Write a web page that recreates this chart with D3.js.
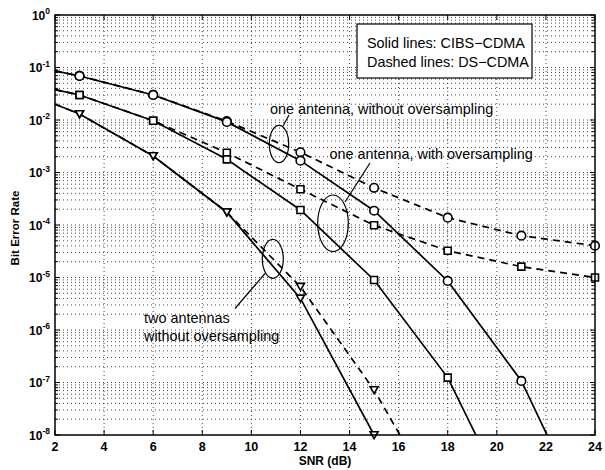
<!DOCTYPE html>
<html>
<head>
<meta charset="utf-8">
<script src="https://cdn.jsdelivr.net/npm/d3@7"></script>
<style>
  body { margin: 0; background: #fff; }
  text { font-family: 'Liberation Sans', Arial, Helvetica, sans-serif; fill: #000; }
</style>
</head>
<body>
<div id="chart"></div>
<script>
// SNR points (markers every 3 dB, first point is the left edge of the axes)
const snr = [2, 3, 6, 9, 12, 15, 18, 21, 24];

// CIBS-CDMA (solid lines)
const cibsOneNoOs = [0.086, 0.069, 0.030, 0.0092, 1.68e-3, 1.87e-4, 8.6e-6, 1.07e-7, 1.2e-10];
const cibsOneOs   = [0.038, 0.030, 0.0097, 1.78e-3, 1.93e-4, 8.96e-6, 1.24e-7, 1.7e-10, null];
const cibsTwo     = [0.020, 0.013, 2.06e-3, 1.75e-4, 4.0e-6, 1.0e-8, null, null, null];

// DS-CDMA (dashed lines)
const dsOneNoOs = [0.086, 0.069, 0.030, 0.0095, 2.43e-3, 5.1e-4, 1.38e-4, 6.25e-5, 4.03e-5];
const dsOneOs   = [0.038, 0.030, 0.0097, 2.38e-3, 4.79e-4, 9.9e-5, 3.24e-5, 1.61e-5, 1.0e-5];
const dsTwo     = [0.020, 0.013, 2.06e-3, 1.75e-4, 6.68e-6, 7.2e-8, 2.6e-10, null, null];

const xTicks = [2, 4, 6, 8, 10, 12, 14, 16, 18, 20, 22, 24];
const yExponents = [0, -1, -2, -3, -4, -5, -6, -7, -8];

const series = [
    {values: dsOneNoOs, marker: 'circle', dashed: true},
    {values: dsOneOs, marker: 'square', dashed: true},
    {values: dsTwo, marker: 'triangle', dashed: true},
    {values: cibsOneNoOs, marker: 'circle', dashed: false},
    {values: cibsOneOs, marker: 'square', dashed: false},
    {values: cibsTwo, marker: 'triangle', dashed: false}
];

const width = 605, height = 470;
const margin = {top: 15, right: 10, bottom: 35, left: 55};

const svg = d3.select('#chart')
    .append('svg')
    .attr('width', width)
    .attr('height', height);

svg.append('rect').attr('width', width).attr('height', height).attr('fill', '#fff');

const x = d3.scaleLinear().domain([2, 24]).range([margin.left, width - margin.right]);
const y = d3.scaleLog().domain([1e-8, 1]).range([height - margin.bottom, margin.top]);

const [x0, x1] = x.range();
const [y0, y1] = y.range(); // y0 bottom, y1 top

svg.append('defs').append('clipPath').attr('id', 'plotClip')
    .append('rect')
    .attr('x', x0).attr('y', y1)
    .attr('width', x1 - x0).attr('height', y0 - y1);

// minor log values
const minorY = [];
yExponents.slice(1).forEach(e => {
    for (let k = 2; k <= 9; k++) minorY.push(k * Math.pow(10, e));
});
const majorY = yExponents.map(e => Math.pow(10, e));

// grid (dotted, matlab style)
const grid = svg.append('g')
    .attr('stroke', '#333')
    .attr('stroke-width', 0.9)
    .attr('stroke-dasharray', '1,3');

grid.selectAll('line.gx')
    .data(xTicks.slice(1, -1))
    .join('line')
    .attr('class', 'gx')
    .attr('x1', d => x(d)).attr('x2', d => x(d))
    .attr('y1', y1).attr('y2', y0);

grid.selectAll('line.gy')
    .data(majorY.slice(1, -1).concat(minorY))
    .join('line')
    .attr('class', 'gy')
    .attr('x1', x0).attr('x2', x1)
    .attr('y1', d => y(d)).attr('y2', d => y(d));

// ticks, inward on all sides
const ticks = svg.append('g').attr('stroke', '#000').attr('stroke-width', 1);
xTicks.forEach(t => {
    ticks.append('line').attr('x1', x(t)).attr('x2', x(t)).attr('y1', y0).attr('y2', y0 - 5);
    ticks.append('line').attr('x1', x(t)).attr('x2', x(t)).attr('y1', y1).attr('y2', y1 + 5);
});
majorY.forEach(v => {
    ticks.append('line').attr('x1', x0).attr('x2', x0 + 5).attr('y1', y(v)).attr('y2', y(v));
    ticks.append('line').attr('x1', x1).attr('x2', x1 - 5).attr('y1', y(v)).attr('y2', y(v));
});
minorY.forEach(v => {
    ticks.append('line').attr('x1', x0).attr('x2', x0 + 3).attr('y1', y(v)).attr('y2', y(v));
    ticks.append('line').attr('x1', x1).attr('x2', x1 - 3).attr('y1', y(v)).attr('y2', y(v));
});

// curves
const line = d3.line()
    .defined(d => d[1] != null)
    .x(d => x(d[0]))
    .y(d => y(d[1]));

const curves = svg.append('g').attr('clip-path', 'url(#plotClip)');
curves.selectAll('path')
    .data(series)
    .join('path')
    .attr('d', s => line(snr.map((v, i) => [v, s.values[i]])))
    .attr('fill', 'none')
    .attr('stroke', '#000')
    .attr('stroke-width', 1.7)
    .attr('stroke-dasharray', s => s.dashed ? '7,5' : null);

// markers (skip the edge point and values below the axis)
const markerPath = {
    square: 'M-3.5,-3.5H3.5V3.5H-3.5Z',
    triangle: 'M-4,-3.3L4,-3.3L0,3.6Z'
};
series.forEach(s => {
    const pts = snr.map((v, i) => [v, s.values[i]])
        .filter((d, i) => i > 0 && d[1] != null && d[1] >= 9e-9);
    const g = svg.append('g')
        .attr('fill', '#fff')
        .attr('stroke', '#000')
        .attr('stroke-width', 1.6);
    if (s.marker === 'circle') {
        g.selectAll('circle').data(pts).join('circle')
            .attr('cx', d => x(d[0])).attr('cy', d => y(d[1])).attr('r', 4.3);
    } else {
        g.selectAll('path').data(pts).join('path')
            .attr('d', markerPath[s.marker])
            .attr('transform', d => `translate(${x(d[0])},${y(d[1])})`);
    }
});

// frame
svg.append('rect')
    .attr('x', x0).attr('y', y1)
    .attr('width', x1 - x0).attr('height', y0 - y1)
    .attr('fill', 'none')
    .attr('stroke', '#000')
    .attr('stroke-width', 1.5);

// tick labels
svg.append('g').selectAll('text')
    .data(xTicks)
    .join('text')
    .attr('x', d => x(d))
    .attr('y', y0 + 16)
    .attr('text-anchor', 'middle')
    .attr('font-size', 12.5)
    .attr('font-weight', 'bold')
    .text(d => d);

const yl = svg.append('g').selectAll('text')
    .data(yExponents)
    .join('text')
    .attr('x', x0 - 5)
    .attr('y', d => y(Math.pow(10, d)) + 4.8)
    .attr('text-anchor', 'end')
    .attr('font-size', 12)
    .attr('font-weight', 'bold');
yl.append('tspan').text('10');
yl.append('tspan').attr('dy', -5.5).attr('font-size', 8.5).text(d => d === 0 ? '0' : '-' + Math.abs(d));

// axis titles
svg.append('text')
    .attr('x', (x0 + x1) / 2)
    .attr('y', y0 + 30)
    .attr('text-anchor', 'middle')
    .attr('font-size', 12)
    .attr('font-weight', 'bold')
    .text('SNR (dB)');

svg.append('text')
    .attr('transform', `translate(19,${(y0 + y1) / 2 + 3}) rotate(-90)`)
    .attr('text-anchor', 'middle')
    .attr('font-size', 11.5)
    .attr('font-weight', 'bold')
    .text('Bit Error Rate');

// legend box
svg.append('rect')
    .attr('x', 357).attr('y', 24)
    .attr('width', 175).attr('height', 54)
    .attr('fill', '#fff')
    .attr('stroke', '#000')
    .attr('stroke-width', 1.2);
svg.append('text').attr('x', 367).attr('y', 47.5).attr('font-size', 14.4).text('Solid lines: CIBS\u2212CDMA');
svg.append('text').attr('x', 367).attr('y', 66.5).attr('font-size', 14.4).text('Dashed lines: DS\u2212CDMA');

// annotations
const notes = svg.append('g');
notes.append('text').attr('x', 270).attr('y', 113.5).attr('font-size', 14.4).text('one antenna, without oversampling');
notes.append('text').attr('x', 329.5).attr('y', 158.5).attr('font-size', 14.4).text('one antenna, with oversampling');
notes.append('text').attr('x', 144).attr('y', 322.5).attr('font-size', 14.4).text('two antennas');
notes.append('text').attr('x', 144).attr('y', 340.5).attr('font-size', 14.4).text('without oversampling');

const ell = [
    {cx: 279, cy: 144, rx: 9.7, ry: 18.7, lx1: 283, ly1: 126, lx2: 289, ly2: 115},
    {cx: 333, cy: 223.3, rx: 15.3, ry: 28.3, lx1: 345, ly1: 202, lx2: 370, ly2: 163},
    {cx: 272.8, cy: 258.8, rx: 10.5, ry: 19.5, lx1: 265, ly1: 273.5, lx2: 235, ly2: 308.5}
];
notes.selectAll('ellipse').data(ell).join('ellipse')
    .attr('cx', d => d.cx).attr('cy', d => d.cy)
    .attr('rx', d => d.rx).attr('ry', d => d.ry)
    .attr('fill', 'none').attr('stroke', '#000').attr('stroke-width', 1.2);
notes.selectAll('line').data(ell).join('line')
    .attr('x1', d => d.lx1).attr('y1', d => d.ly1)
    .attr('x2', d => d.lx2).attr('y2', d => d.ly2)
    .attr('stroke', '#000').attr('stroke-width', 1.2);
</script>
</body>
</html>
